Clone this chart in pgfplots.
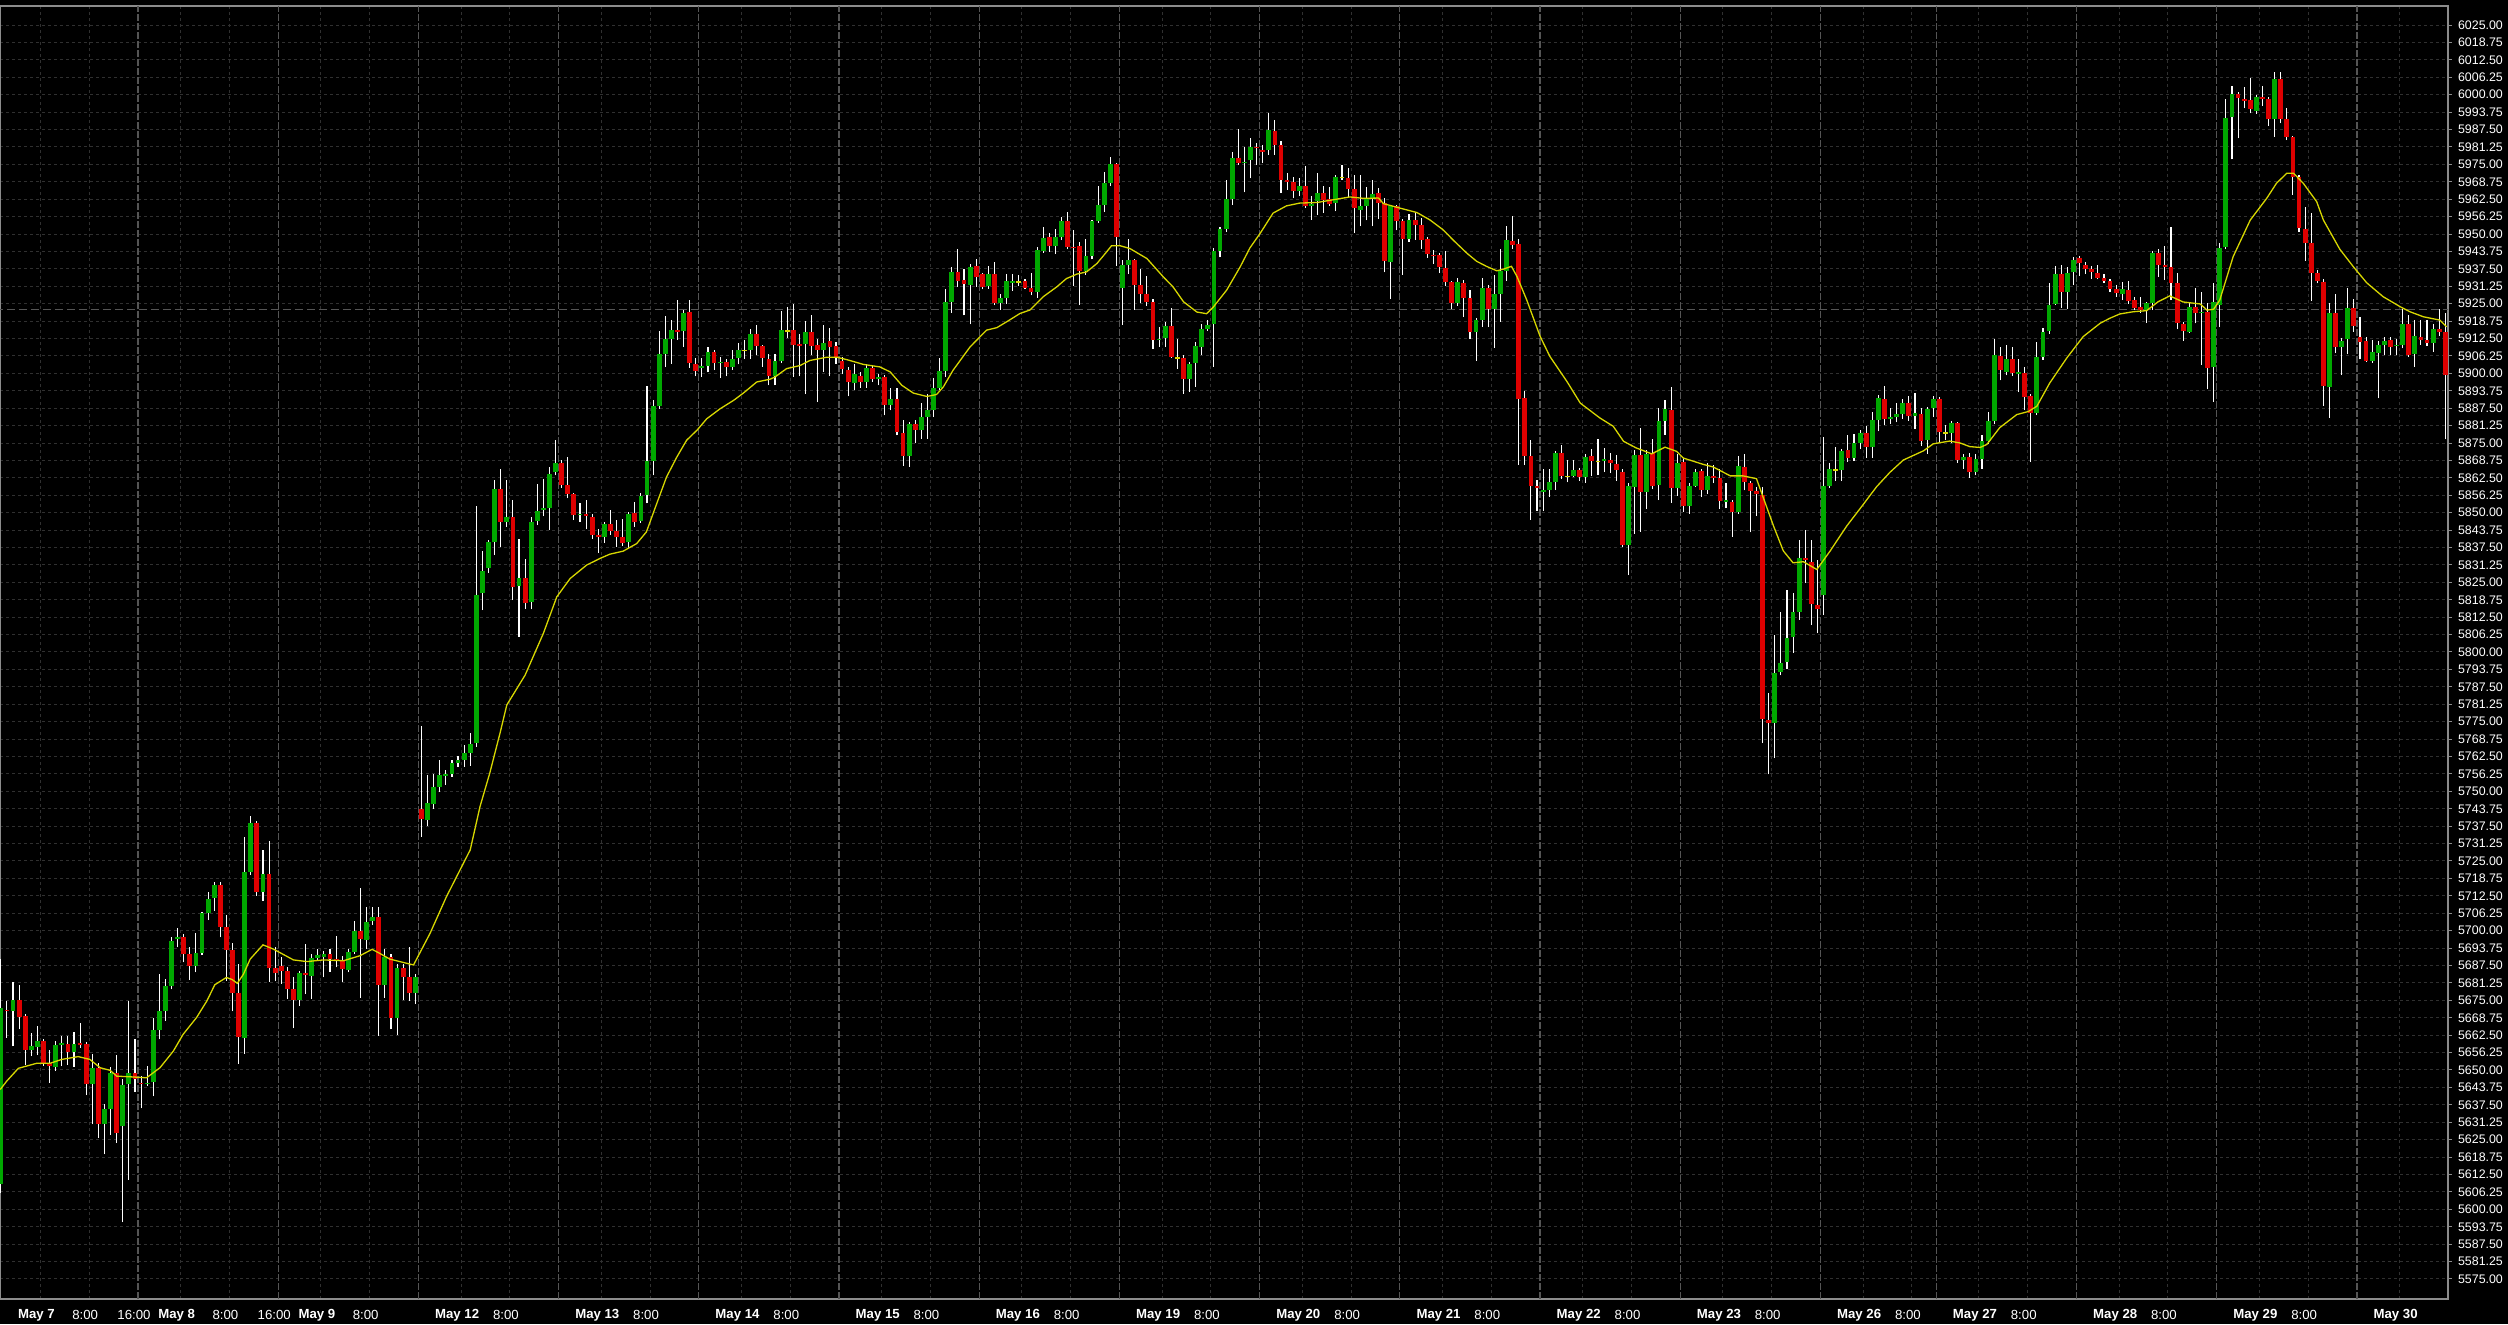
\documentclass[border=0pt]{standalone}
\usepackage{fontspec}
\setmainfont{Liberation Sans}
\usepackage{pgfplots}
\usepackage{pgfplotstable}
\pgfplotsset{compat=1.18}
\definecolor{bull}{RGB}{0,168,0}
\definecolor{bear}{RGB}{222,0,0}
\definecolor{maline}{RGB}{215,215,0}
\definecolor{gridd}{RGB}{48,48,48}
\definecolor{gridb}{RGB}{85,85,85}
\definecolor{framec}{RGB}{140,140,140}
% one block per candle: row 1 = low / open, row 2 = high / close, row 3 = break
% w = wick end, g = bullish body end, r = bearish body end
\pgfplotstableread{
i w g r
0 5606.0 5609.1 nan
0 5690.0 5672.2 nan
0 nan nan nan
1 5661.6 nan 5671.7
1 5674.8 nan 5671.2
1 nan nan nan
2 5658.5 5671.2 nan
2 5681.4 5675.2 nan
2 nan nan nan
3 5664.6 nan 5675.2
3 5680.6 nan 5669.1
3 nan nan nan
4 5651.8 nan 5669.4
4 5670.0 nan 5657.3
4 nan nan nan
5 5655.0 5657.3 nan
5 5663.2 5658.6 nan
5 nan nan nan
6 5655.4 5658.4 nan
6 5665.8 5660.4 nan
6 nan nan nan
7 5651.4 nan 5660.4
7 5661.0 nan 5652.6
7 nan nan nan
8 5645.4 nan 5652.6
8 5657.1 nan 5651.4
8 nan nan nan
9 5649.6 5651.2 nan
9 5660.4 5658.9 nan
9 nan nan nan
10 5651.4 5659.1 nan
10 5662.1 5659.6 nan
10 nan nan nan
11 5651.8 nan 5659.4
11 5662.1 nan 5656.6
11 nan nan nan
12 5651.1 5656.6 nan
12 5663.8 5659.4 nan
12 nan nan nan
13 5658.0 nan 5659.7
13 5666.8 nan 5659.1
13 nan nan nan
14 5641.0 nan 5659.4
14 5660.1 nan 5645.1
14 nan nan nan
15 5630.5 5645.1 nan
15 5655.9 5650.6 nan
15 nan nan nan
16 5625.7 nan 5650.6
16 5652.6 nan 5630.7
16 nan nan nan
17 5619.7 5630.7 nan
17 5637.9 5635.9 nan
17 nan nan nan
18 5626.6 5635.9 nan
18 5651.1 5648.9 nan
18 nan nan nan
19 5623.9 nan 5648.9
19 5655.4 nan 5627.5
19 nan nan nan
20 5595.4 5630.0 nan
20 5646.6 5644.6 nan
20 nan nan nan
21 5610.6 5644.8 nan
21 5674.8 5648.9 nan
21 nan nan nan
22 5642.2 nan 5648.9
22 5661.0 nan 5646.6
22 nan nan nan
23 5636.2 nan 5645.4
23 5647.8 nan 5644.8
23 nan nan nan
24 5644.2 5644.8 nan
24 5651.3 5645.4 nan
24 nan nan nan
25 5640.5 5645.8 nan
25 5668.6 5664.4 nan
25 nan nan nan
26 5661.0 5664.4 nan
26 5684.4 5671.0 nan
26 nan nan nan
27 5667.7 5671.0 nan
27 5682.6 5680.3 nan
27 nan nan nan
28 5678.9 5680.3 nan
28 5697.6 5696.4 nan
28 nan nan nan
29 5694.0 5696.9 nan
29 5700.8 5697.8 nan
29 nan nan nan
30 5688.6 nan 5697.6
30 5698.8 nan 5691.6
30 nan nan nan
31 5682.4 nan 5691.6
31 5694.0 nan 5687.4
31 nan nan nan
32 5685.0 5687.4 nan
32 5699.0 5692.1 nan
32 nan nan nan
33 5691.2 5692.1 nan
33 5706.8 5706.5 nan
33 nan nan nan
34 5703.8 5706.2 nan
34 5713.9 5711.5 nan
34 nan nan nan
35 5707.2 5711.8 nan
35 5717.4 5716.4 nan
35 nan nan nan
36 5697.6 nan 5716.4
36 5717.6 nan 5701.2
36 nan nan nan
37 5682.0 nan 5701.2
37 5705.8 nan 5693.2
37 nan nan nan
38 5671.0 nan 5693.2
38 5695.6 nan 5677.8
38 nan nan nan
39 5652.3 nan 5677.8
39 5688.2 nan 5661.9
39 nan nan nan
40 5655.9 5661.6 nan
40 5733.6 5721.2 nan
40 nan nan nan
41 5720.0 5721.2 nan
41 5741.2 5738.8 nan
41 nan nan nan
42 5712.6 nan 5738.8
42 5739.5 nan 5714.0
42 nan nan nan
43 5710.8 5714.0 nan
43 5728.8 5720.4 nan
43 nan nan nan
44 5681.7 nan 5720.4
44 5732.1 nan 5686.5
44 nan nan nan
45 5681.8 nan 5686.5
45 5694.0 nan 5684.7
45 nan nan nan
46 5681.0 nan 5687.4
46 5690.4 nan 5685.4
46 nan nan nan
47 5675.4 nan 5685.5
47 5687.1 nan 5679.1
47 nan nan nan
48 5664.9 nan 5679.1
48 5683.2 nan 5675.2
48 nan nan nan
49 5673.0 5675.1 nan
49 5685.4 5684.9 nan
49 nan nan nan
50 5677.2 nan 5684.9
50 5695.1 nan 5684.2
50 nan nan nan
51 5675.4 5683.8 nan
51 5691.6 5690.3 nan
51 nan nan nan
52 5689.2 5690.3 nan
52 5693.4 5691.4 nan
52 nan nan nan
53 5683.2 5690.6 nan
53 5692.8 5691.7 nan
53 nan nan nan
54 5685.3 nan 5691.7
54 5693.4 nan 5690.0
54 nan nan nan
55 5686.8 nan 5690.0
55 5698.2 nan 5689.2
55 nan nan nan
56 5681.7 nan 5689.2
56 5691.0 nan 5686.1
56 nan nan nan
57 5685.0 5685.9 nan
57 5693.4 5692.4 nan
57 nan nan nan
58 5691.6 5692.4 nan
58 5703.4 5700.0 nan
58 nan nan nan
59 5675.8 nan 5700.0
59 5715.3 nan 5696.9
59 nan nan nan
60 5693.4 5696.8 nan
60 5708.4 5703.2 nan
60 nan nan nan
61 5702.0 5703.4 nan
61 5708.4 5705.0 nan
61 nan nan nan
62 5662.2 nan 5704.8
62 5708.5 nan 5680.5
62 nan nan nan
63 5676.0 5680.5 nan
63 5693.4 5690.6 nan
63 nan nan nan
64 5664.6 nan 5690.6
64 5691.8 nan 5668.5
64 nan nan nan
65 5662.6 5668.7 nan
65 5688.2 5686.6 nan
65 nan nan nan
66 5675.0 nan 5686.6
66 5688.2 nan 5683.2
66 nan nan nan
67 5674.8 nan 5683.2
67 5694.0 nan 5677.8
67 nan nan nan
68 5673.6 5677.8 nan
68 5684.4 5683.5 nan
68 nan nan nan
69 5733.7 nan 5743.7
69 5773.5 nan 5740.0
69 nan nan nan
70 5737.6 5739.7 nan
70 5755.9 5745.7 nan
70 nan nan nan
71 5743.6 5745.4 nan
71 5756.2 5751.4 nan
71 nan nan nan
72 5749.9 5751.5 nan
72 5761.3 5755.9 nan
72 nan nan nan
73 5752.3 5755.5 nan
73 5757.7 5756.2 nan
73 nan nan nan
74 5755.3 5756.2 nan
74 5761.3 5760.1 nan
74 nan nan nan
75 5758.9 5760.3 nan
75 5762.7 5761.3 nan
75 nan nan nan
76 5758.9 5761.3 nan
76 5766.6 5763.9 nan
76 nan nan nan
77 5759.1 5763.9 nan
77 5770.8 5767.0 nan
77 nan nan nan
78 5766.0 5767.2 nan
78 5852.3 5820.4 nan
78 nan nan nan
79 5815.0 5821.0 nan
79 5836.2 5829.0 nan
79 nan nan nan
80 5828.4 5830.2 nan
80 5840.1 5839.3 nan
80 nan nan nan
81 5834.8 5839.3 nan
81 5861.6 5858.4 nan
81 nan nan nan
82 5837.7 nan 5858.6
82 5865.5 nan 5846.7
82 nan nan nan
83 5844.9 5846.5 nan
83 5861.6 5848.3 nan
83 nan nan nan
84 5818.6 nan 5848.3
84 5854.7 nan 5823.2
84 nan nan nan
85 5805.5 5823.8 nan
85 5840.7 5826.4 nan
85 nan nan nan
86 5815.6 nan 5826.4
86 5833.5 nan 5817.7
86 nan nan nan
87 5815.3 5818.0 nan
87 5848.5 5846.7 nan
87 nan nan nan
88 5845.5 5846.9 nan
88 5860.4 5850.6 nan
88 nan nan nan
89 5848.7 5850.9 nan
89 5862.2 5851.5 nan
89 nan nan nan
90 5843.7 5851.5 nan
90 5866.4 5864.0 nan
90 nan nan nan
91 5863.4 5864.6 nan
91 5876.2 5867.9 nan
91 nan nan nan
92 5859.0 nan 5867.9
92 5869.0 nan 5859.8
92 nan nan nan
93 5855.1 nan 5859.8
93 5869.8 nan 5856.6
93 nan nan nan
94 5847.3 nan 5856.6
94 5857.1 nan 5849.1
94 nan nan nan
95 5846.7 5849.2 nan
95 5853.3 5849.7 nan
95 nan nan nan
96 5844.0 nan 5849.7
96 5854.5 nan 5848.9
96 nan nan nan
97 5840.7 nan 5848.5
97 5849.7 nan 5841.9
97 nan nan nan
98 5835.6 nan 5841.9
98 5844.3 nan 5841.1
98 nan nan nan
99 5839.2 5841.1 nan
99 5846.7 5845.8 nan
99 nan nan nan
100 5841.9 nan 5845.8
100 5850.9 nan 5843.5
100 nan nan nan
101 5837.7 nan 5843.4
101 5847.5 nan 5841.1
101 nan nan nan
102 5838.0 nan 5841.3
102 5847.9 nan 5839.2
102 nan nan nan
103 5837.1 5839.5 nan
103 5850.3 5849.7 nan
103 nan nan nan
104 5844.9 nan 5850.0
104 5853.9 nan 5846.7
104 nan nan nan
105 5846.3 5847.1 nan
105 5856.9 5855.9 nan
105 nan nan nan
106 5853.3 5856.3 nan
106 5895.3 5868.4 nan
106 nan nan nan
107 5863.4 5868.6 nan
107 5890.3 5888.2 nan
107 nan nan nan
108 5887.3 5888.2 nan
108 5915.2 5906.8 nan
108 nan nan nan
109 5902.3 5906.8 nan
109 5920.4 5912.2 nan
109 nan nan nan
110 5903.5 5912.2 nan
110 5919.2 5915.4 nan
110 nan nan nan
111 5912.0 nan 5915.4
111 5926.4 nan 5914.8
111 nan nan nan
112 5909.4 5915.2 nan
112 5922.8 5921.6 nan
112 nan nan nan
113 5902.0 nan 5922.0
113 5926.4 nan 5903.7
113 nan nan nan
114 5898.9 nan 5903.4
114 5905.6 nan 5900.8
114 nan nan nan
115 5898.7 5902.0 nan
115 5905.6 5902.5 nan
115 nan nan nan
116 5900.3 5902.7 nan
116 5909.4 5907.5 nan
116 nan nan nan
117 5901.3 nan 5907.5
117 5908.5 nan 5903.7
117 nan nan nan
118 5898.3 5903.7 nan
118 5905.8 5904.0 nan
118 nan nan nan
119 5898.9 nan 5904.0
119 5905.2 nan 5902.3
119 nan nan nan
120 5901.3 5902.3 nan
120 5908.2 5905.0 nan
120 nan nan nan
121 5903.2 5905.6 nan
121 5910.9 5908.2 nan
121 nan nan nan
122 5905.2 nan nan
122 5911.8 nan nan
122 nan nan nan
123 5905.2 5908.5 nan
123 5915.8 5914.0 nan
123 nan nan nan
124 5906.4 nan 5914.0
124 5917.5 nan 5909.7
124 nan nan nan
125 5902.3 nan 5909.7
125 5910.0 nan 5905.6
125 nan nan nan
126 5895.7 nan 5905.2
126 5907.0 nan 5898.9
126 nan nan nan
127 5895.7 5898.9 nan
127 5906.8 5904.3 nan
127 nan nan nan
128 5903.7 5904.3 nan
128 5922.3 5915.6 nan
128 nan nan nan
129 5912.8 nan nan
129 5923.8 nan nan
129 nan nan nan
130 5898.7 nan 5915.4
130 5924.8 nan 5910.0
130 nan nan nan
131 5898.9 nan 5910.4
131 5914.0 nan 5909.8
131 nan nan nan
132 5892.5 5910.4 nan
132 5918.7 5915.0 nan
132 nan nan nan
133 5906.4 nan 5915.0
133 5920.8 nan 5909.7
133 nan nan nan
134 5889.7 nan 5910.0
134 5912.4 nan 5908.5
134 nan nan nan
135 5900.5 5908.5 nan
135 5917.5 5911.0 nan
135 nan nan nan
136 5898.9 nan 5911.6
136 5916.4 nan 5909.4
136 nan nan nan
137 5903.4 nan 5909.7
137 5911.2 nan 5905.8
137 nan nan nan
138 5899.6 nan 5904.3
138 5905.8 nan 5901.4
138 nan nan nan
139 5891.7 nan 5901.1
139 5902.3 nan 5896.9
139 nan nan nan
140 5893.9 5896.5 nan
140 5903.2 5899.6 nan
140 nan nan nan
141 5894.8 nan 5899.2
141 5900.5 nan 5896.9
141 nan nan nan
142 5894.8 5896.9 nan
142 5903.2 5901.9 nan
142 nan nan nan
143 5896.9 nan 5901.9
143 5902.5 nan 5898.0
143 nan nan nan
144 5895.7 5898.0 nan
144 5899.6 5898.6 nan
144 nan nan nan
145 5884.9 nan 5898.6
145 5899.3 nan 5888.7
145 nan nan nan
146 5886.7 5888.7 nan
146 5894.7 5890.9 nan
146 nan nan nan
147 5877.7 nan 5890.9
147 5894.8 nan 5878.9
147 nan nan nan
148 5866.9 nan 5878.5
148 5883.1 nan 5870.5
148 nan nan nan
149 5866.5 5870.5 nan
149 5882.5 5881.7 nan
149 nan nan nan
150 5874.9 nan 5881.9
150 5883.1 nan 5879.5
150 nan nan nan
151 5876.5 5879.5 nan
151 5889.3 5884.5 nan
151 nan nan nan
152 5876.5 5884.5 nan
152 5892.7 5887.0 nan
152 nan nan nan
153 5884.3 5887.0 nan
153 5898.4 5894.8 nan
153 nan nan nan
154 5893.9 5894.8 nan
154 5905.5 5900.7 nan
154 nan nan nan
155 5898.7 5900.7 nan
155 5930.4 5925.6 nan
155 nan nan nan
156 5921.7 5925.6 nan
156 5938.0 5936.2 nan
156 nan nan nan
157 5931.0 nan 5936.2
157 5944.6 nan 5933.1
157 nan nan nan
158 5920.8 nan 5933.4
158 5937.6 nan 5931.9
158 nan nan nan
159 5917.6 5931.7 nan
159 5939.4 5938.0 nan
159 nan nan nan
160 5931.0 nan 5938.5
160 5941.2 nan 5934.4
160 nan nan nan
161 5930.1 nan 5935.6
161 5936.1 nan 5931.0
161 nan nan nan
162 5930.4 5931.3 nan
162 5938.5 5935.6 nan
162 nan nan nan
163 5924.5 nan 5935.6
163 5940.0 nan 5925.3
163 nan nan nan
164 5922.9 5925.3 nan
164 5928.6 5926.9 nan
164 nan nan nan
165 5924.8 5926.9 nan
165 5935.8 5933.1 nan
165 nan nan nan
166 5929.6 5932.5 nan
166 5935.6 5933.1 nan
166 nan nan nan
167 5931.3 nan nan
167 5935.2 nan nan
167 nan nan nan
168 5930.4 nan 5933.0
168 5934.0 nan 5930.8
168 nan nan nan
169 5928.0 nan 5930.6
169 5936.1 nan 5929.2
169 nan nan nan
170 5927.2 5929.2 nan
170 5945.4 5944.2 nan
170 nan nan nan
171 5943.3 5944.0 nan
171 5952.4 5948.7 nan
171 nan nan nan
172 5943.6 nan 5948.9
172 5950.5 nan 5945.8
172 nan nan nan
173 5942.8 5945.8 nan
173 5951.7 5948.9 nan
173 nan nan nan
174 5947.8 5948.9 nan
174 5956.2 5954.6 nan
174 nan nan nan
175 5944.5 nan 5954.6
175 5958.0 nan 5945.4
175 nan nan nan
176 5931.3 nan 5945.3
176 5951.4 nan 5944.8
176 nan nan nan
177 5924.5 nan 5945.7
177 5947.2 nan 5936.7
177 nan nan nan
178 5935.3 5936.7 nan
178 5948.1 5942.1 nan
178 nan nan nan
179 5940.9 5942.1 nan
179 5955.1 5954.6 nan
179 nan nan nan
180 5954.1 5954.8 nan
180 5967.2 5960.4 nan
180 nan nan nan
181 5958.0 5960.4 nan
181 5972.4 5968.2 nan
181 nan nan nan
182 5967.2 5968.2 nan
182 5977.6 5975.2 nan
182 nan nan nan
183 5938.5 nan 5975.2
183 5975.4 nan 5948.8
183 nan nan nan
184 5917.3 5930.7 nan
184 5940.6 5938.8 nan
184 nan nan nan
185 5935.6 5938.8 nan
185 5948.1 5940.6 nan
185 nan nan nan
186 5922.9 nan 5940.6
186 5941.2 nan 5931.6
186 nan nan nan
187 5925.1 nan 5931.6
187 5937.6 nan 5928.6
187 nan nan nan
188 5924.1 nan 5928.6
188 5934.9 nan 5925.6
188 nan nan nan
189 5908.9 nan 5925.6
189 5926.5 nan 5912.1
189 nan nan nan
190 5909.5 5912.1 nan
190 5916.7 5912.5 nan
190 nan nan nan
191 5909.5 5912.7 nan
191 5918.5 5917.1 nan
191 nan nan nan
192 5905.6 nan 5916.9
192 5923.3 nan 5905.9
192 nan nan nan
193 5901.7 nan nan
193 5912.5 nan nan
193 nan nan nan
194 5892.7 nan 5905.6
194 5906.5 nan 5898.0
194 nan nan nan
195 5893.3 5898.0 nan
195 5904.1 5903.5 nan
195 nan nan nan
196 5895.1 5903.7 nan
196 5911.3 5909.7 nan
196 nan nan nan
197 5906.5 5909.5 nan
197 5917.6 5915.8 nan
197 nan nan nan
198 5915.2 5915.8 nan
198 5919.1 5917.5 nan
198 nan nan nan
199 5902.3 5917.6 nan
199 5944.8 5943.9 nan
199 nan nan nan
200 5941.6 5943.9 nan
200 5952.6 5951.7 nan
200 nan nan nan
201 5950.8 5951.8 nan
201 5969.4 5962.6 nan
201 nan nan nan
202 5960.4 5962.6 nan
202 5979.6 5977.4 nan
202 nan nan nan
203 5974.8 nan 5977.4
203 5987.6 nan 5975.6
203 nan nan nan
204 5964.9 5975.4 nan
204 5981.2 5976.0 nan
204 nan nan nan
205 5970.0 5976.4 nan
205 5984.4 5981.3 nan
205 nan nan nan
206 5974.8 nan 5981.3
206 5982.6 nan 5980.7
206 nan nan nan
207 5975.4 nan 5980.2
207 5982.0 nan 5979.6
207 nan nan nan
208 5978.4 5980.2 nan
208 5993.6 5987.4 nan
208 nan nan nan
209 5978.4 nan 5987.0
209 5991.0 nan 5982.0
209 nan nan nan
210 5964.7 nan 5982.0
210 5983.2 nan 5969.2
210 nan nan nan
211 5965.9 nan 5969.2
211 5971.9 nan 5968.5
211 nan nan nan
212 5962.9 nan 5968.5
212 5970.4 nan 5965.3
212 nan nan nan
213 5963.5 5965.3 nan
213 5970.1 5967.2 nan
213 nan nan nan
214 5959.3 nan 5967.2
214 5974.3 nan 5959.9
214 nan nan nan
215 5955.1 5959.9 nan
215 5963.5 5960.8 nan
215 nan nan nan
216 5956.9 5961.7 nan
216 5971.9 5964.7 nan
216 nan nan nan
217 5957.7 nan 5964.7
217 5967.1 nan 5962.3
217 nan nan nan
218 5960.1 nan 5962.5
218 5966.8 nan 5960.7
218 nan nan nan
219 5958.1 5961.0 nan
219 5971.3 5970.4 nan
219 nan nan nan
220 5969.5 nan nan
220 5974.8 nan nan
220 nan nan nan
221 5963.2 nan 5970.1
221 5973.6 nan 5966.2
221 nan nan nan
222 5950.3 nan 5966.2
222 5971.3 nan 5959.2
222 nan nan nan
223 5952.7 5958.7 nan
223 5971.3 5960.1 nan
223 nan nan nan
224 5954.9 5959.9 nan
224 5966.8 5962.9 nan
224 nan nan nan
225 5952.7 5962.9 nan
225 5969.2 5964.3 nan
225 nan nan nan
226 5955.4 nan 5964.7
226 5966.5 nan 5961.3
226 nan nan nan
227 5936.2 nan 5961.1
227 5962.9 nan 5940.2
227 nan nan nan
228 5926.6 5939.8 nan
228 5960.5 5959.9 nan
228 nan nan nan
229 5951.3 nan 5959.9
229 5960.5 nan 5954.8
229 nan nan nan
230 5935.4 nan 5954.8
230 5955.4 nan 5948.3
230 nan nan nan
231 5947.3 5948.3 nan
231 5957.3 5955.1 nan
231 nan nan nan
232 5948.0 nan 5955.1
232 5957.5 nan 5953.3
232 nan nan nan
233 5944.6 nan 5953.1
233 5955.7 nan 5948.0
233 nan nan nan
234 5941.4 nan 5948.3
234 5949.1 nan 5942.9
234 nan nan nan
235 5939.3 nan 5942.6
235 5944.3 nan 5942.0
235 nan nan nan
236 5936.0 nan 5942.3
236 5943.1 nan 5938.1
236 nan nan nan
237 5931.2 nan 5937.9
237 5943.9 nan 5932.6
237 nan nan nan
238 5923.2 nan 5932.6
238 5933.0 nan 5925.1
238 nan nan nan
239 5924.3 5925.1 nan
239 5934.2 5932.7 nan
239 nan nan nan
240 5920.2 nan 5932.5
240 5933.6 nan 5927.1
240 nan nan nan
241 5912.3 nan 5927.1
241 5930.0 nan 5914.7
241 nan nan nan
242 5904.6 5914.7 nan
242 5919.8 5919.3 nan
242 nan nan nan
243 5916.6 5919.3 nan
243 5934.2 5930.7 nan
243 nan nan nan
244 5916.6 nan 5930.7
244 5931.8 nan 5923.2
244 nan nan nan
245 5909.1 5923.2 nan
245 5935.4 5928.6 nan
245 nan nan nan
246 5918.6 5928.6 nan
246 5944.6 5936.6 nan
246 nan nan nan
247 5933.3 5936.6 nan
247 5953.0 5947.8 nan
247 nan nan nan
248 5944.6 nan 5947.6
248 5956.5 nan 5946.1
248 nan nan nan
249 5867.2 nan 5946.5
249 5948.2 nan 5890.9
249 nan nan nan
250 5867.1 nan 5891.2
250 5893.5 nan 5870.2
250 nan nan nan
251 5847.4 nan 5870.2
251 5876.1 nan 5859.4
251 nan nan nan
252 5850.6 nan 5859.7
252 5861.7 nan 5858.7
252 nan nan nan
253 5850.6 5857.4 nan
253 5865.7 5858.1 nan
253 nan nan nan
254 5855.8 5858.2 nan
254 5865.7 5860.9 nan
254 nan nan nan
255 5858.1 5860.9 nan
255 5872.3 5871.4 nan
255 nan nan nan
256 5862.0 nan 5871.4
256 5874.3 nan 5863.3
256 nan nan nan
257 5860.9 nan nan
257 5869.0 nan nan
257 nan nan nan
258 5862.9 5863.3 nan
258 5869.0 5865.2 nan
258 nan nan nan
259 5861.5 nan 5865.4
259 5865.9 nan 5862.9
259 nan nan nan
260 5860.8 5862.9 nan
260 5871.1 5870.0 nan
260 nan nan nan
261 5863.3 nan 5870.4
261 5872.7 nan 5868.6
261 nan nan nan
262 5863.6 nan nan
262 5876.4 nan nan
262 nan nan nan
263 5864.7 5868.6 nan
263 5873.2 5869.2 nan
263 nan nan nan
264 5864.2 nan 5869.0
264 5871.4 nan 5867.8
264 nan nan nan
265 5861.5 nan 5867.5
265 5870.8 nan 5865.2
265 nan nan nan
266 5837.8 nan 5864.7
266 5865.5 nan 5838.4
266 nan nan nan
267 5827.6 5838.4 nan
267 5860.5 5859.6 nan
267 nan nan nan
268 5842.4 5859.3 nan
268 5872.5 5870.7 nan
268 nan nan nan
269 5843.2 nan 5870.7
269 5880.4 nan 5857.5
269 nan nan nan
270 5851.3 5857.5 nan
270 5872.5 5871.1 nan
270 nan nan nan
271 5858.4 nan 5871.5
271 5876.4 nan 5859.6
271 nan nan nan
272 5854.5 5859.9 nan
272 5887.5 5883.0 nan
272 nan nan nan
273 5878.0 5883.0 nan
273 5890.3 5887.3 nan
273 nan nan nan
274 5853.6 nan 5886.9
274 5895.2 nan 5858.7
274 nan nan nan
275 5856.1 5858.7 nan
275 5870.9 5867.7 nan
275 nan nan nan
276 5850.4 nan 5868.1
276 5869.6 nan 5852.3
276 nan nan nan
277 5849.7 5852.3 nan
277 5860.6 5859.6 nan
277 nan nan nan
278 5859.3 5859.6 nan
278 5865.7 5864.7 nan
278 nan nan nan
279 5855.7 nan 5865.1
279 5865.7 nan 5858.0
279 nan nan nan
280 5856.8 5858.0 nan
280 5867.7 5863.2 nan
280 nan nan nan
281 5860.6 nan 5863.2
281 5867.0 nan 5862.5
281 nan nan nan
282 5851.4 nan 5862.5
282 5865.7 nan 5854.2
282 nan nan nan
283 5851.6 5853.8 nan
283 5860.6 5854.5 nan
283 nan nan nan
284 5841.4 nan 5853.9
284 5854.5 nan 5850.1
284 nan nan nan
285 5849.7 5850.4 nan
285 5870.2 5866.6 nan
285 nan nan nan
286 5858.0 nan 5866.4
286 5871.2 nan 5860.9
286 nan nan nan
287 5842.9 nan 5860.6
287 5861.3 nan 5857.7
287 nan nan nan
288 5848.8 nan 5857.7
288 5859.3 nan 5856.8
288 nan nan nan
289 5767.3 nan 5856.5
289 5859.1 nan 5776.0
289 nan nan nan
290 5756.1 nan 5775.7
290 5785.2 nan 5774.7
290 nan nan nan
291 5761.9 5774.7 nan
291 5806.1 5792.4 nan
291 nan nan nan
292 5791.6 5792.7 nan
292 5814.4 5795.9 nan
292 nan nan nan
293 5793.9 5796.3 nan
293 5822.2 5805.2 nan
293 nan nan nan
294 5799.7 5805.5 nan
294 5821.1 5814.5 nan
294 nan nan nan
295 5811.6 5814.5 nan
295 5840.1 5833.7 nan
295 nan nan nan
296 5824.9 nan 5833.7
296 5843.7 nan 5833.0
296 nan nan nan
297 5809.6 nan 5832.4
297 5840.1 nan 5817.3
297 nan nan nan
298 5806.8 nan 5817.0
298 5833.0 nan 5815.5
298 nan nan nan
299 5813.2 5820.5 nan
299 5877.3 5859.6 nan
299 nan nan nan
300 5858.9 5859.6 nan
300 5867.7 5865.7 nan
300 nan nan nan
301 5861.3 nan nan
301 5873.4 nan nan
301 nan nan nan
302 5861.3 5865.4 nan
302 5872.8 5872.2 nan
302 nan nan nan
303 5868.3 nan 5872.4
303 5877.9 nan 5869.6
303 nan nan nan
304 5868.6 5869.6 nan
304 5878.3 5875.0 nan
304 nan nan nan
305 5872.8 5875.0 nan
305 5879.6 5878.6 nan
305 nan nan nan
306 5869.6 nan 5878.6
306 5881.1 nan 5873.4
306 nan nan nan
307 5869.6 5873.7 nan
307 5886.0 5883.1 nan
307 nan nan nan
308 5879.2 5883.1 nan
308 5892.4 5891.1 nan
308 nan nan nan
309 5881.4 nan 5890.7
309 5895.5 nan 5883.7
309 nan nan nan
310 5881.8 5883.7 nan
310 5887.5 5884.2 nan
310 nan nan nan
311 5882.4 5884.3 nan
311 5889.5 5885.4 nan
311 nan nan nan
312 5883.7 5885.4 nan
312 5890.7 5889.5 nan
312 nan nan nan
313 5883.0 nan 5889.5
313 5892.0 nan 5884.7
313 nan nan nan
314 5880.1 5884.7 nan
314 5892.9 5885.6 nan
314 nan nan nan
315 5874.1 nan 5885.4
315 5887.5 nan 5875.7
315 nan nan nan
316 5871.1 5876.0 nan
316 5887.8 5887.2 nan
316 nan nan nan
317 5884.3 5887.5 nan
317 5892.0 5890.7 nan
317 nan nan nan
318 5875.4 nan 5890.7
318 5891.4 nan 5878.8
318 nan nan nan
319 5876.0 nan nan
319 5881.4 nan nan
319 nan nan nan
320 5875.0 5878.6 nan
320 5883.0 5882.1 nan
320 nan nan nan
321 5868.0 nan 5882.1
321 5882.7 nan 5868.9
321 nan nan nan
322 5865.7 5868.9 nan
322 5870.9 5869.8 nan
322 nan nan nan
323 5862.5 nan 5869.8
323 5871.5 nan 5864.7
323 nan nan nan
324 5863.4 5864.7 nan
324 5870.9 5869.3 nan
324 nan nan nan
325 5865.7 5869.3 nan
325 5877.9 5875.6 nan
325 nan nan nan
326 5874.5 5875.6 nan
326 5886.0 5882.8 nan
326 nan nan nan
327 5881.8 5882.8 nan
327 5912.5 5906.5 nan
327 nan nan nan
328 5897.5 nan 5906.1
328 5909.3 nan 5901.3
328 nan nan nan
329 5899.3 5900.6 nan
329 5910.0 5905.2 nan
329 nan nan nan
330 5899.1 nan 5905.2
330 5909.3 nan 5900.1
330 nan nan nan
331 5893.3 5899.7 nan
331 5905.2 5900.4 nan
331 nan nan nan
332 5886.9 nan 5900.1
332 5902.3 nan 5891.4
332 nan nan nan
333 5868.1 nan 5891.8
333 5892.7 nan 5885.6
333 nan nan nan
334 5885.0 5885.6 nan
334 5911.3 5905.9 nan
334 nan nan nan
335 5904.8 5905.9 nan
335 5916.4 5914.7 nan
335 nan nan nan
336 5914.2 5915.1 nan
336 5932.4 5924.7 nan
336 nan nan nan
337 5924.7 5925.0 nan
337 5938.6 5935.6 nan
337 nan nan nan
338 5923.4 nan 5935.6
338 5938.8 nan 5929.2
338 nan nan nan
339 5923.2 5929.2 nan
339 5938.2 5936.0 nan
339 nan nan nan
340 5931.8 5936.3 nan
340 5941.6 5940.7 nan
340 nan nan nan
341 5935.0 nan 5941.4
341 5942.0 nan 5939.5
341 nan nan nan
342 5935.6 nan 5938.8
342 5939.8 nan 5937.5
342 nan nan nan
343 5933.9 nan 5937.3
343 5938.6 nan 5936.3
343 nan nan nan
344 5933.7 nan 5936.0
344 5938.8 nan 5934.3
344 nan nan nan
345 5932.4 nan 5934.3
345 5935.6 nan 5933.0
345 nan nan nan
346 5929.2 nan 5933.0
346 5933.9 nan 5930.1
346 nan nan nan
347 5927.5 nan 5930.2
347 5931.7 nan 5928.7
347 nan nan nan
348 5926.3 5928.5 nan
348 5932.9 5930.2 nan
348 nan nan nan
349 5924.9 nan 5929.9
349 5933.3 nan 5926.1
349 nan nan nan
350 5922.7 nan 5926.3
350 5927.5 nan 5923.6
350 nan nan nan
351 5921.8 nan 5923.9
351 5927.5 nan 5922.7
351 nan nan nan
352 5918.2 5922.9 nan
352 5925.7 5925.1 nan
352 nan nan nan
353 5922.9 5925.1 nan
353 5944.0 5943.1 nan
353 nan nan nan
354 5934.7 nan 5943.1
354 5944.5 nan 5938.9
354 nan nan nan
355 5933.5 nan 5938.9
355 5945.7 nan 5938.3
355 nan nan nan
356 5926.3 nan 5938.0
356 5952.4 nan 5932.3
356 nan nan nan
357 5915.8 nan 5932.3
357 5936.1 nan 5917.9
357 nan nan nan
358 5911.7 nan 5917.7
358 5918.5 nan 5915.3
358 nan nan nan
359 5914.6 5915.0 nan
359 5925.7 5923.7 nan
359 nan nan nan
360 5917.9 nan 5923.7
360 5930.5 nan 5921.5
360 nan nan nan
361 5903.0 5921.8 nan
361 5929.3 5922.1 nan
361 nan nan nan
362 5894.2 nan 5922.1
362 5925.1 nan 5901.8
362 nan nan nan
363 5889.8 5902.2 nan
363 5932.5 5925.7 nan
363 nan nan nan
364 5916.5 5924.5 nan
364 5946.9 5944.9 nan
364 nan nan nan
365 5944.5 5945.2 nan
365 5998.3 5991.5 nan
365 nan nan nan
366 5976.8 5992.1 nan
366 6003.1 6000.2 nan
366 nan nan nan
367 5984.3 nan 6000.2
367 6001.1 nan 5998.7
367 nan nan nan
368 5995.1 nan 5998.3
368 6002.9 nan 5997.8
368 nan nan nan
369 5993.3 nan 5998.1
369 6005.9 nan 5994.7
369 nan nan nan
370 5993.1 5994.3 nan
370 5999.9 5999.0 nan
370 nan nan nan
371 5995.9 nan 5999.0
371 6003.1 nan 5998.6
371 nan nan nan
372 5988.8 nan 5998.3
372 5999.0 nan 5991.1
372 nan nan nan
373 5984.9 5991.1 nan
373 6008.3 6005.5 nan
373 nan nan nan
374 5989.7 nan 6005.5
374 6008.3 nan 5991.4
374 nan nan nan
375 5983.7 nan 5991.1
375 5995.1 nan 5984.7
375 nan nan nan
376 5964.0 nan 5984.7
376 5985.2 nan 5970.3
376 nan nan nan
377 5950.8 nan 5970.3
377 5971.2 nan 5952.0
377 nan nan nan
378 5940.4 nan 5951.7
378 5959.8 nan 5946.9
378 nan nan nan
379 5926.1 nan 5946.9
379 5957.6 nan 5936.1
379 nan nan nan
380 5932.3 nan 5936.1
380 5937.1 nan 5933.3
380 nan nan nan
381 5888.3 nan 5932.9
381 5933.7 nan 5895.5
381 nan nan nan
382 5883.9 5895.2 nan
382 5925.1 5921.5 nan
382 nan nan nan
383 5907.4 nan 5921.5
383 5928.5 nan 5909.6
383 nan nan nan
384 5899.4 5909.6 nan
384 5912.6 5911.7 nan
384 nan nan nan
385 5906.9 5912.2 nan
385 5930.5 5923.6 nan
385 nan nan nan
386 5914.9 nan 5923.6
386 5926.6 nan 5917.0
386 nan nan nan
387 5905.0 nan 5913.2
387 5920.3 nan 5911.4
387 nan nan nan
388 5904.2 nan 5911.6
388 5913.2 nan 5904.5
388 nan nan nan
389 5903.8 5904.5 nan
389 5912.0 5907.8 nan
389 nan nan nan
390 5891.0 5907.4 nan
390 5911.7 5910.2 nan
390 nan nan nan
391 5906.6 5910.0 nan
391 5913.2 5911.6 nan
391 nan nan nan
392 5906.6 nan 5912.0
392 5913.2 nan 5909.6
392 nan nan nan
393 5906.6 5909.8 nan
393 5912.2 5910.2 nan
393 nan nan nan
394 5909.0 5910.2 nan
394 5923.0 5917.7 nan
394 nan nan nan
395 5906.0 nan 5917.7
395 5920.9 nan 5906.6
395 nan nan nan
396 5902.4 5906.9 nan
396 5919.1 5913.5 nan
396 nan nan nan
397 5910.2 nan 5912.9
397 5919.1 nan 5912.0
397 nan nan nan
398 5909.8 nan 5912.0
398 5919.1 nan 5910.8
398 nan nan nan
399 5907.8 5910.8 nan
399 5917.7 5915.9 nan
399 nan nan nan
400 5913.4 nan 5915.9
400 5923.0 nan 5914.9
400 nan nan nan
401 5876.3 nan 5914.7
401 5921.5 nan 5899.4
401 nan nan nan
}\candles
\begin{document}
\begin{tikzpicture}
\fill[black] (0,0) rectangle (1254pt,662pt);
\begin{axis}[
  at={(0pt,12.5pt)}, anchor=south west,
  scale only axis, width=1224pt, height=646.5pt,
  xmin=-0.14, xmax=401.44, ymin=5567.82, ymax=6031.82,
  axis background/.style={fill=black},
  axis line style={draw=framec, line width=0.6pt},
  unbounded coords=jump,
  ytick={5575,5581.25,...,6025},
  ytick pos=right, yticklabel pos=right,
  yticklabel style={font=\fontsize{6.2}{7}\selectfont, text=white, anchor=west, xshift=-0.5pt,
    /pgf/number format/fixed, /pgf/number format/fixed zerofill,
    /pgf/number format/precision=2, /pgf/number format/1000 sep={},
    /pgf/number format/assume math mode=true},
  ymajorgrids, xmajorgrids,
  major grid style={draw=gridd, line width=0.5pt, dash pattern=on 1.5pt off 1.5pt},
  tick align=outside, major tick length=2pt,
  ytick style={draw=framec, line width=0.5pt},
  xtick style={draw=none},
  xtick={6.5,14.5,29.5,37.5,52.5,60.5,75.5,83.5,98.5,106.5,121.5,129.5,144.5,152.5,167.5,175.5,190.5,198.5,213.5,221.5,236.5,244.5,259.5,267.5,282.5,290.5,305.5,313.5,324.5,332.5,347.5,355.5,370.5,378.5,393.5},
  xticklabels={{\bfseries May 7},8:00,{\bfseries May 8},8:00,{\bfseries May 9},8:00,{\bfseries May 12},8:00,{\bfseries May 13},8:00,{\bfseries May 14},8:00,{\bfseries May 15},8:00,{\bfseries May 16},8:00,{\bfseries May 19},8:00,{\bfseries May 20},8:00,{\bfseries May 21},8:00,{\bfseries May 22},8:00,{\bfseries May 23},8:00,{\bfseries May 26},8:00,{\bfseries May 27},8:00,{\bfseries May 28},8:00,{\bfseries May 29},8:00,{\bfseries May 30}},
  xticklabel style={font=\fontsize{6.6}{7}\selectfont, text=white, anchor=center, xshift=-2pt, yshift=-6pt},
  extra x ticks={22.5,45.5,68.5,91.5,114.5,137.5,160.5,183.5,206.5,229.5,252.5,275.5,298.5,317.5,340.5,363.5,386.5},
  extra x tick labels={16:00,16:00},
  extra x tick style={major grid style={draw=gridb, line width=0.6pt, dash pattern=on 3.5pt off 1pt}},
  clip=true,
]
% price level line
\addplot[draw=gridb, line width=0.6pt, dash pattern=on 4pt off 2pt, forget plot] coordinates {(-1,5923.0) (403,5923.0)};
% wicks (low to high)
\addplot[draw=white, line width=0.55pt, line cap=butt, mark=none] table[x=i, y=w] {\candles};
% bullish bodies (open to close)
\addplot[draw=bull, line width=2.4pt, line cap=butt, mark=none] table[x=i, y=g] {\candles};
% bearish bodies (open to close)
\addplot[draw=bear, line width=2.4pt, line cap=butt, mark=none] table[x=i, y=r] {\candles};
% doji candles
\addplot[only marks, mark=-, mark size=1.2pt, mark options={draw=maline, line width=0.8pt}]
 coordinates {(122,5908.2) (129,5915.2) (167,5932.7) (193,5905.5) (220,5970.3) (257,5863.0) (262,5868.4) (301,5865.4) (319,5878.6)};
% moving average
\addplot[maline, line width=0.65pt, mark=none] coordinates {
(-0.1,5643.0) (0.96,5646.0) (2.87,5650.6) (5.87,5652.4) (8.06,5652.4) (10.0,5653.8) (12.7,5654.8) (14.6,5653.8) (16.3,5650.8) (17.9,5649.9) (19.0,5647.8) (21.7,5647.5) (23.9,5647.2) (26.1,5650.8) (28.3,5656.8) (29.9,5662.8) (32.1,5668.8) (33.8,5674.8) (35.1,5680.6) (37.0,5683.2) (37.9,5682.5) (38.8,5681.1) (39.8,5684.4) (40.9,5689.8) (43.0,5694.9) (44.7,5693.4) (48.0,5689.5) (50.2,5688.9) (52.9,5689.5) (56.2,5689.2) (58.9,5691.0) (60.9,5693.3) (62.2,5691.8) (63.8,5689.8) (66.0,5688.6) (67.7,5687.7) (70.4,5699.0) (73.1,5712.2) (77.0,5729.0) (78.6,5744.5) (80.2,5756.5) (81.9,5771.0) (83.0,5781.0) (86.0,5791.7) (89.0,5806.7) (91.2,5819.8) (93.4,5826.4) (96.1,5831.2) (98.3,5833.6) (99.9,5835.1) (102.1,5836.2) (104.3,5838.9) (105.9,5843.1) (107.6,5853.3) (109.2,5862.8) (110.9,5870.0) (112.5,5876.0) (114.2,5879.6) (115.8,5883.7) (118.0,5887.3) (120.2,5890.3) (121.8,5892.9) (124.0,5896.9) (126.2,5897.9) (127.0,5898.7) (128.9,5901.7) (131.1,5902.8) (132.7,5904.6) (135.5,5905.8) (137.1,5905.8) (138.8,5904.9) (141.5,5903.2) (144.2,5902.3) (145.9,5900.5) (147.8,5895.7) (149.7,5892.9) (151.9,5891.7) (153.5,5892.4) (154.6,5895.1) (156.2,5901.1) (159.0,5909.5) (161.7,5915.5) (163.4,5916.4) (165.0,5918.5) (167.2,5921.5) (168.8,5922.7) (171.0,5927.5) (173.2,5931.0) (174.8,5934.0) (176.5,5935.6) (178.1,5936.4) (179.8,5939.4) (181.4,5943.6) (182.2,5945.8) (183.6,5945.8) (185.2,5944.8) (188.0,5941.2) (190.7,5934.6) (192.3,5931.0) (194.0,5925.7) (196.2,5922.0) (197.8,5921.4) (198.9,5923.8) (201.1,5929.9) (203.3,5938.2) (204.9,5945.0) (206.6,5950.3) (208.7,5957.5) (210.9,5960.1) (213.1,5961.1) (215.9,5961.3) (218.6,5962.3) (221.3,5963.3) (223.5,5962.8) (226.0,5962.9) (226.8,5960.9) (229.5,5959.3) (232.3,5957.7) (234.4,5955.1) (236.6,5951.5) (238.3,5947.7) (240.5,5943.1) (242.1,5940.2) (243.7,5938.4) (245.4,5936.8) (246.5,5937.4) (247.8,5938.4) (248.7,5934.8) (250.3,5926.4) (252.5,5913.3) (254.1,5906.1) (256.9,5897.1) (259.1,5889.3) (262.3,5884.0) (264.5,5881.0) (266.2,5875.6) (268.3,5873.2) (269.4,5872.3) (270.8,5871.1) (273.0,5873.5) (274.9,5872.0) (276.0,5869.6) (279.3,5867.3) (280.9,5866.4) (283.7,5863.2) (285.8,5863.2) (288.0,5862.2) (289.1,5855.5) (290.8,5845.2) (292.4,5836.3) (294.0,5832.0) (295.7,5832.4) (297.9,5829.6) (300.1,5836.3) (302.8,5845.2) (305.5,5852.9) (307.7,5859.3) (309.9,5864.5) (312.1,5868.9) (314.3,5871.1) (315.4,5872.2) (317.0,5874.7) (319.7,5875.7) (321.4,5875.0) (323.0,5873.7) (324.7,5873.4) (325.8,5874.5) (327.9,5880.5) (330.7,5885.2) (332.6,5886.3) (334.0,5888.2) (336.1,5896.5) (338.9,5905.5) (341.6,5913.2) (344.4,5918.0) (346.0,5919.8) (347.6,5921.3) (349.8,5922.1) (352.0,5922.5) (353.9,5925.7) (355.8,5927.8) (358.0,5925.6) (360.8,5924.9) (361.9,5922.7) (363.0,5923.0) (364.0,5926.3) (366.2,5941.9) (369.0,5955.0) (371.7,5962.8) (373.3,5968.2) (375.0,5971.8) (376.1,5971.8) (377.7,5968.2) (379.9,5961.6) (381.0,5955.0) (383.7,5944.5) (385.9,5938.3) (388.1,5932.5) (390.8,5927.5) (393.6,5923.9) (395.2,5922.1) (397.4,5920.3) (400.1,5919.1) (401.2,5916.7)
};
\end{axis}
\pgfresetboundingbox
\path[use as bounding box] (0,0) rectangle (1254pt,662pt);
\end{tikzpicture}
\end{document}
